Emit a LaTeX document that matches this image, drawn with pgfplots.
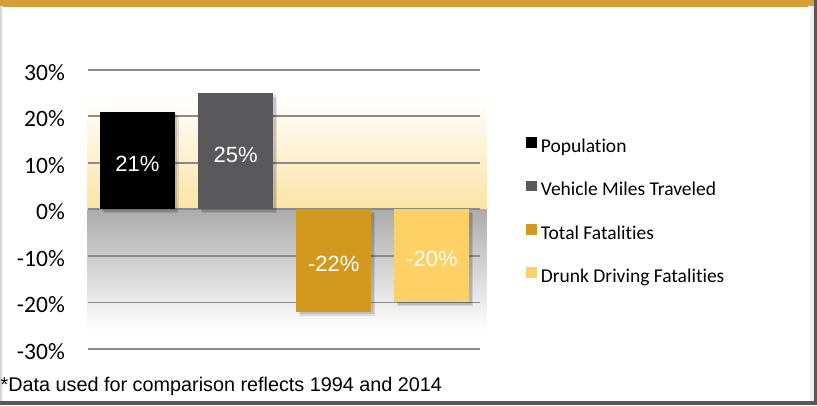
\documentclass[border=0pt]{standalone}
\usepackage{fontspec}
\setmainfont{Liberation Sans}
\newfontfamily\carlito[Ligatures={NoCommon}]{Carlito}
\usepackage{pgfplots}
\pgfplotsset{compat=1.18}
\usetikzlibrary{shadows}
\definecolor{gold}{HTML}{D59E36}
\definecolor{barblack}{HTML}{000000}
\definecolor{bargray}{HTML}{59595B}
\definecolor{barorange}{HTML}{D3991F}
\definecolor{baryellow}{HTML}{FDD166}
\definecolor{cream}{HTML}{FCE3A4}
\definecolor{bggray}{HTML}{ABABAB}
\definecolor{gridgray}{HTML}{8A8A8A}
\definecolor{framegray}{HTML}{58585A}
\pgfplotsset{
  sqlegend/.style={legend image code/.code={%
    \path[fill=none, draw=none] (0pt,-7pt) rectangle (10.7pt,10.7pt);
    \fill[##1] (0pt,0pt) rectangle (10.7pt,10.7pt);}},
  mybar/.style={ybar, bar width=0.764, bar shift=0pt, draw=none, forget plot,
    drop shadow={shadow xshift=4pt, shadow yshift=-4pt, opacity=0.10, fill=black},
    drop shadow={shadow xshift=2.5pt, shadow yshift=-2.5pt, opacity=0.12, fill=black}},
}
\begin{document}
\begin{tikzpicture}
\path (0,0) rectangle (817pt,405pt);
\fill[gold] (0,398.3pt) rectangle (817pt,405pt);
\shade[left color=black!18, right color=white] (0,4.3pt) rectangle (3pt,398.3pt);
\shade[left color=white, right color=black!10] (808pt,4.3pt) rectangle (814pt,398.3pt);
\fill[framegray] (814pt,0) rectangle (817pt,405pt);
\fill[framegray] (0,0) rectangle (817pt,4.3pt);
\node[anchor=base west, inner sep=0pt, font=\fontsize{19.8pt}{24pt}\selectfont] at (0.5pt,14pt) {*Data used for comparison reflects 1994 and 2014};
\begin{axis}[
  set layers,
  at={(87.7pt,56pt)}, anchor=south west,
  scale only axis, width=392.3pt, height=279.3pt,
  xmin=-0.507, xmax=3.49, ymin=-30, ymax=30,
  clip=false,
  axis line style={draw=none},
  major tick length=0pt,
  xtick=\empty,
  ytick={-30,-20,-10,0,10,20,30},
  yticklabels={-30\%,-20\%,-10\%,0\%,10\%,20\%,30\%},
  yticklabel style={font=\carlito\fontsize{23.5pt}{28pt}\selectfont, anchor=east, inner sep=0pt, xshift=-22.7pt, yshift=-2.6pt},
  ymajorgrids,
  major grid style={gridgray, line width=1.8pt},
  legend cell align=left,
  legend style={at={(1.1173,0.759)}, anchor=north west, draw=none, fill=none, inner sep=0pt,
    row sep=23.2pt, font=\carlito\fontsize{19.5pt}{23pt}\selectfont,
    nodes={inner sep=0pt, text height=14pt, text depth=5pt},
    /tikz/every odd column/.append style={column sep=4pt}},
]
\begin{pgfonlayer}{axis background}
\shade[top color=white, bottom color=cream] (axis cs:-0.507,0) rectangle (axis cs:3.56,24);
\shade[top color=bggray, bottom color=white] (axis cs:-0.507,-26) rectangle (axis cs:3.56,0);
\end{pgfonlayer}
\addplot[mybar, fill=barblack] coordinates {(0,21)};
\addplot[mybar, fill=bargray] coordinates {(1,25)};
\addplot[mybar, fill=barorange] coordinates {(2,-22)};
\addplot[mybar, fill=baryellow] coordinates {(3,-20)};
\addplot[draw=none, mark=none, forget plot, nodes near coords, point meta=explicit symbolic,
  every node near coord/.append style={anchor=center, text=white, yshift=-3.5pt,
    font=\fontsize{22pt}{26pt}\selectfont}]
  coordinates {(0,10.5)[21\%] (1,12.5)[25\%] (2,-11)[-22\%] (3,-10)[-20\%]};
\addlegendimage{sqlegend, fill=barblack, draw=none}
\addlegendentry{Population}
\addlegendimage{sqlegend, fill=bargray, draw=none}
\addlegendentry{Vehicle Miles Traveled}
\addlegendimage{sqlegend, fill=barorange, draw=none}
\addlegendentry{Total Fatalities}
\addlegendimage{sqlegend, fill=baryellow, draw=none}
\addlegendentry{Drunk Driving Fatalities}
\end{axis}
\end{tikzpicture}
\end{document}
